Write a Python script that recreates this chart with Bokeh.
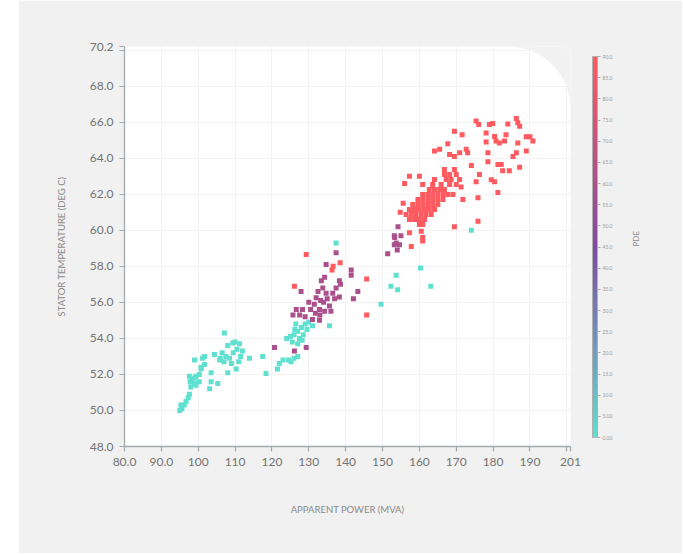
import math
from bokeh.plotting import figure
from bokeh.models import (ColumnDataSource, LinearColorMapper, ColorBar, FixedTicker,
                          BoxAnnotation, LinearAxis)
from bokeh.embed import file_html
from bokeh.resources import INLINE

# ---------------- data ----------------
x_ticks = [80, 90, 100, 110, 120, 130, 140, 150, 160, 170, 180, 190, 200, 201]
x_tick_labels = ["80.0", "90.0", "100", "110", "120", "130", "140", "150", "160",
                 "170", "180", "190", "", "201"]
y_ticks = [48, 50, 52, 54, 56, 58, 60, 62, 64, 66, 68, 70, 70.2]
y_tick_labels = ["48.0", "50.0", "52.0", "54.0", "56.0", "58.0", "60.0", "62.0",
                 "64.0", "66.0", "68.0", "", "70.2"]
cb_ticks = [0, 5, 10, 15, 20, 25, 30, 35, 40, 45, 50, 55, 60, 65, 70, 75, 80, 85, 90]
cb_tick_labels = ["0.00", "5.00", "10.0", "15.0", "20.0", "25.0", "30.0", "35.0", "40.0",
                  "45.0", "50.0", "55.0", "60.0", "65.0", "70.0", "75.0", "80.0", "85.0", "90.0"]

cyan_power = [95.0, 95.6, 96.2, 95.3, 96.7, 97.3, 97.6, 98.0, 97.8, 98.3, 99.4, 99.0, 100.3,
              100.8, 99.0, 101.7, 103.1, 105.3, 103.5, 104.4, 105.8, 107.1, 108.0,
              97.6, 99.0, 100.3, 99.4, 98.1, 100.8, 101.7, 101.2, 103.5,
              106.5, 107.5, 108.5, 109.5, 110.5, 111.5, 108.0, 110.0, 112.0, 109.0, 111.0,
              107.0, 109.4, 111.2, 106.0, 113.9, 117.5, 118.4, 110.3,
              121.5, 122.0, 123.0, 124.5, 126.0, 127.0, 125.2,
              124.0, 125.0, 126.0, 127.0, 128.0, 126.5, 127.5, 128.5, 129.0, 130.0, 131.0,
              125.5, 127.0, 129.5, 126.2, 128.2,
              135.6, 137.4, 149.6, 152.3, 153.7, 154.1, 160.3, 163.1, 174.1]
cyan_temp = [50.0, 50.1, 50.3, 50.3, 50.5, 50.7, 50.9, 51.3, 51.6, 51.7, 51.9, 51.5, 51.6,
             52.3, 52.8, 53.0, 51.2, 51.5, 52.1, 53.1, 52.8, 54.3, 52.1,
             51.9, 51.8, 52.0, 51.4, 51.6, 52.4, 52.55, 52.9, 51.6,
             53.2, 53.0, 52.9, 53.2, 53.4, 53.0, 53.6, 53.8, 53.3, 52.6, 52.7,
             52.7, 53.75, 53.7, 52.9, 52.9, 53.0, 52.05, 52.3,
             52.3, 52.6, 52.8, 52.8, 52.9, 53.0, 52.7,
             54.0, 54.1, 54.2, 54.4, 54.6, 54.8, 54.0, 54.2, 54.8, 54.9, 54.7,
             53.8, 53.7, 54.5, 54.5, 53.9,
             54.7, 59.3, 55.9, 56.9, 57.5, 56.7, 57.9, 56.9, 60.0]
cyan_pde = 0.0

mauve_power = [120.7, 126.1, 129.3, 126.6, 127.5, 128.3, 131.5, 132.0, 132.9, 133.2, 134.3,
               134.7, 135.6, 132.9, 131.0, 127.9, 133.4, 134.3, 136.5, 137.0, 137.4, 138.3,
               138.6, 141.5, 141.5, 142.1, 143.3, 137.4, 134.7, 138.3,
               130.5, 131.8, 133.0, 134.0, 135.0, 132.5, 133.8, 130.0, 129.0, 136.0, 125.7,
               151.4, 153.7, 154.0, 153.3, 154.2, 153.2, 155.0, 153.2, 154.6]
mauve_temp = [53.5, 53.3, 53.5, 55.6, 55.3, 55.6, 55.9, 56.25, 55.6, 56.1, 55.5,
              56.5, 55.8, 55.0, 55.05, 56.6, 57.2, 57.4, 56.5, 56.2, 56.8, 57.2,
              57.0, 57.8, 57.5, 56.2, 56.6, 58.75, 58.1, 56.3,
              55.6, 55.4, 55.3, 56.0, 56.2, 56.6, 56.8, 56.0, 55.2, 55.5, 55.3,
              58.7, 59.3, 58.9, 59.6, 60.2, 59.7, 59.7, 59.2, 59.2]
mauve_pde = 60.0

red_power = [129.3, 126.1, 136.3, 136.6, 138.5, 145.7, 145.7,
             157.8, 157.3, 160.5, 160.9, 160.9,
             162.7, 164.1, 165.5, 166.8,
             160.9, 162.3, 163.6, 165.0, 166.4, 167.7, 169.1,
             159.6, 160.9, 162.3, 163.6, 165.0, 166.4, 171.8,
             158.2, 159.6, 160.9, 162.3, 163.6, 165.0,
             157.3, 158.7, 160.0, 161.4, 162.7, 164.1,
             156.4, 157.8, 159.1, 160.5, 161.8, 163.2,
             157.3, 158.7, 160.0, 161.4,
             160.0, 160.9,
             160.9, 163.6, 165.9, 168.2, 170.0,
             164.1, 167.3, 168.6, 170.9,
             166.8, 168.2, 170.0,
             166.8, 169.5,
             156.0, 157.3, 160.0, 155.6, 154.8,
             164.1, 165.5, 168.2, 169.5, 170.9, 172.7, 173.1, 167.7, 169.5, 171.6,
             174.1, 176.3, 175.4, 175.9, 171.3, 178.6, 178.6, 179.5, 180.4, 181.3,
             182.2, 182.6, 181.3, 184.4, 187.2, 185.4, 186.3, 189.0, 186.7,
             180.8, 181.7, 180.4, 183.5, 183.1, 184.0, 186.3, 186.7, 187.2,
             189.0, 190.0, 190.8, 178.1, 178.1, 175.4, 176.1, 179.9, 179.0,
             169.5, 175.9]
red_temp = [58.65, 56.9, 57.8, 58.0, 58.2, 57.3, 55.3,
            59.1, 59.86, 59.95, 59.6, 59.4,
            62.26, 62.26, 62.26, 62.26,
            61.99, 61.99, 61.99, 61.99, 61.99, 61.99, 61.99,
            61.71, 61.71, 61.71, 61.71, 61.71, 61.71, 61.71,
            61.43, 61.43, 61.43, 61.43, 61.43, 61.43,
            61.16, 61.16, 61.16, 61.16, 61.16, 61.16,
            60.88, 60.88, 60.88, 60.88, 60.88, 60.88,
            60.6, 60.6, 60.6, 60.6,
            60.32, 60.32,
            62.54, 62.54, 62.54, 62.54, 62.54,
            62.82, 62.82, 62.82, 62.82,
            63.1, 63.1, 63.1,
            63.38, 63.38,
            62.6, 63.0, 63.0, 61.5, 61.0,
            64.4, 64.5, 64.2, 64.1, 64.3, 64.5, 64.3, 64.8, 65.5, 65.3,
            63.6, 63.1, 62.7, 61.8, 62.4, 64.3, 63.8, 62.8, 62.7, 63.65,
            63.65, 63.3, 62.1, 63.3, 63.5, 64.1, 64.3, 64.4, 64.85,
            64.95, 64.85, 65.2, 65.3, 64.95, 65.9, 66.2, 65.97, 65.78,
            65.19, 65.19, 64.95, 65.4, 64.9, 66.06, 65.87, 65.93, 65.87,
            60.2, 60.5]
red_pde = 90.0

# ---------------- build ----------------
power = cyan_power + mauve_power + red_power
temp = cyan_temp + mauve_temp + red_temp
pde = ([cyan_pde] * len(cyan_power) + [mauve_pde] * len(mauve_power)
       + [red_pde] * len(red_power))
src = ColumnDataSource(dict(power=power, temp=temp, pde=pde))

anchors = [(0.0, (95, 224, 208)), (0.5, (127, 75, 163)), (1.0, (255, 90, 95))]
palette = []
for i in range(256):
    t = i / 255
    for (t0, c0), (t1, c1) in zip(anchors[:-1], anchors[1:]):
        if t0 <= t <= t1:
            f = (t - t0) / (t1 - t0)
            c = tuple(int(round(a + (b - a) * f)) for a, b in zip(c0, c1))
            palette.append("#%02x%02x%02x" % c)
            break
mapper = LinearColorMapper(palette=palette, low=0, high=90)

GRAY = "#f1f1f1"
p = figure(width=664, height=553, x_range=(80, 201), y_range=(48, 70.2),
           output_backend="svg", toolbar_location=None,
           min_border_left=106, min_border_right=112, min_border_top=46, min_border_bottom=107,
           background_fill_color=GRAY, border_fill_color=GRAY, outline_line_color=None,
           margin=(0, 0, 0, 18))

panel = BoxAnnotation(left=80, right=201, bottom=48, top=70.2, fill_color="white",
                      fill_alpha=1.0, line_color=None, border_radius=(0, 62, 0, 0),
                      level="image")
p.add_layout(panel)

p.xaxis.ticker = FixedTicker(ticks=x_ticks)
p.yaxis.ticker = FixedTicker(ticks=y_ticks)
p.xaxis.major_label_overrides = {t: l for t, l in zip(x_ticks, x_tick_labels)}
p.yaxis.major_label_overrides = {t: l for t, l in zip(y_ticks, y_tick_labels)}
p.grid.grid_line_color = "#f3f3f3"

AX = "#a4a9ae"
for ax in (p.xaxis[0], p.yaxis[0]):
    ax.axis_line_color = AX
    ax.axis_line_width = 1.3
    ax.major_tick_line_color = AX
    ax.major_tick_line_width = 1.2
    ax.major_tick_out = 5
    ax.major_tick_in = 0
    ax.minor_tick_line_color = None
    ax.major_label_text_font = "Lato"
    ax.major_label_text_font_size = "12px"
    ax.major_label_text_color = "#737373"
    ax.major_label_standoff = 6
    ax.axis_label_text_font = "Lato"
    ax.axis_label_text_font_size = "9.5px"
    ax.axis_label_text_font_style = "normal"
    ax.axis_label_text_color = "#8a8a8a"

p.xaxis.axis_label = "APPARENT POWER (MVA)"
p.xaxis.axis_label_standoff = 35
p.yaxis.axis_label = "STATOR TEMPERATURE (DEG C)"
p.yaxis.axis_label_standoff = 20

p.scatter(x="power", y="temp", source=src, marker="square", size=5,
          fill_color={"field": "pde", "transform": mapper}, line_color=None)

cb = ColorBar(color_mapper=mapper, ticker=FixedTicker(ticks=cb_ticks),
              major_label_overrides={t: l for t, l in zip(cb_ticks, cb_tick_labels)},
              width=5, height=381, padding=0, margin=0, location=(22, 9),
              major_tick_in=0, major_tick_out=3, major_tick_line_color="#aaaaaa",
              label_standoff=2, major_label_text_font_size="5px",
              major_label_text_color="#9a9a9a", major_label_text_font="Lato",
              bar_line_color="#b0b0b0", background_fill_color=None, border_line_color=None)
p.add_layout(cb, "right")

# "PDE" title of the colour bar, as the label of an otherwise invisible right axis
pde_axis = LinearAxis(axis_label="PDE", axis_line_color=None, major_tick_line_color=None,
                      minor_tick_line_color=None, major_label_text_font_size="0px",
                      major_label_text_color=None, axis_label_text_font="Lato",
                      axis_label_text_font_size="8px", axis_label_text_font_style="normal",
                      axis_label_text_color="#8a8a8a", axis_label_standoff=20,
                      ticker=FixedTicker(ticks=[]))
try:
    pde_axis.axis_label_orientation = math.pi / 2
except Exception:
    pass
p.add_layout(pde_axis, "right")

open("out.html", "w").write(file_html(p, INLINE))
